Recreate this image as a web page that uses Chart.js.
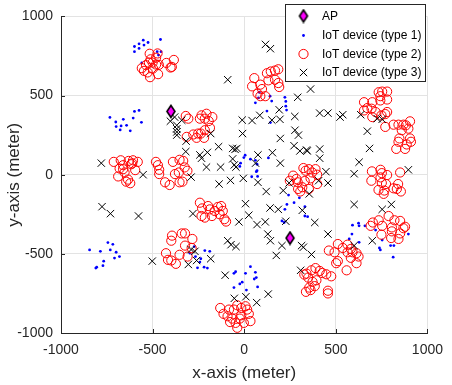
<!DOCTYPE html>
<html>
<head>
<meta charset="utf-8">
<script src="https://cdn.jsdelivr.net/npm/chart.js@4.4.1/dist/chart.umd.min.js"></script>
<style>
html,body{margin:0;padding:0;background:#fff;}
#wrap{width:452px;height:385px;}
</style>
</head>
<body>
<div id="wrap"><canvas id="c" width="452" height="385"></canvas></div>
<script>
// ---- data (meters) ----
const xTicks = [-1000, -500, 0, 500, 1000];
const yTicks = [-1000, -500, 0, 500, 1000];
const seriesNames = ['AP', 'IoT device (type 1)', 'IoT device (type 2)', 'IoT device (type 3)'];

const apX = [-400, 250];
const apY = [400, -400];

const t1X = [-599,-574,-551,-525,-457,-599,-574,-547,-475,-468,-454,-559,
  -733,-701,-672,-660,-642,-622,-677,-699,-599,-574,-606,-561,
  -844,-785,-744,-717,-731,-699,-681,-708,-767,-771,-805,-810,
  -273,-215,-188,-296,-266,-237,-242,-255,-219,-201,
  -47,-56,7,61,34,66,55,-11,-24,-56,12,73,
  -2,34,5,-24,-20,61,132,70,66,73,41,70,
  242,233,301,331,346,331,206,218,272,222,
  61,78,82,141,150,222,227,227,231,124,143,
  591,624,627,588,573,627,659,717,753,738,743,799,817,813,896];
const t1Y = [810,827,850,835,854,777,798,819,777,756,777,706,
  362,333,308,350,312,277,283,304,400,406,358,331,
  -475,-484,-429,-440,-475,-490,-517,-527,-546,-575,-584,-590,
  -454,-479,-484,-496,-517,-531,-552,-588,-584,-590,
  -613,-623,-623,-617,-581,-650,-659,-679,-690,-713,-729,-709,
  108,98,123,52,73,91,106,66,19,-11,-13,25,
  -129,-188,-146,-202,-265,-261,-292,-302,-177,-219,
  454,485,521,496,465,489,463,433,408,402,329,
  -319,-306,-323,-375,-406,-427,-323,-350,-413,-463,-475,-448,-448,-521,-375];

const t2X = [-516,-473,-559,-536,-520,-500,-481,-466,-425,-384,-402,-527,-514,-470,-511,-498,-547,-481,-395,
  -319,-305,-314,-278,-251,-233,-206,-174,-242,-215,-194,-187,-215,-237,-260,-219,
  -712,-674,-661,-680,-688,-653,-631,-607,-581,-595,-617,-644,-622,-634,-611,-661,
  -482,-471,-464,-464,-432,-407,-389,-378,-353,-357,-353,-333,-325,-310,-337,
  -427,-416,-398,-373,-394,-398,-341,-323,-283,-323,-287,-353,-309,
  -242,-230,-215,-233,-197,-176,-161,-144,-126,-117,-108,-99,-188,-134,
  -131,-113,-83,-56,-91,-65,-38,-16,7,16,25,-16,-24,-2,34,-47,-77,-38,
  55,43,88,97,73,115,124,145,168,186,132,168,186,191,88,
  654,654,672,699,695,734,753,780,780,743,743,780,770,749,717,699,
  770,815,842,869,860,847,905,896,905,910,887,878,830,842,882,
  697,744,751,780,694,744,751,774,733,765,761,815,840,855,833,851,
  690,702,734,753,749,788,820,851,869,878,806,802,842,851,806,
  462,493,511,538,564,582,591,613,624,613,582,511,502,559,564,
  340,349,367,389,412,426,448,475,373,385,394,355,337,362,457,457,328,
  267,285,292,294,306,317,330,335,353,371,389,398,362,398,353,323,249];
const t2Y = [764,766,673,692,708,708,696,694,706,725,677,646,616,635,729,671,656,739,681,
  371,354,239,254,260,375,385,364,354,354,339,296,281,260,233,233,
  81,91,35,39,-11,14,87,91,81,29,66,-44,-54,-31,72,60,
  81,60,31,4,-48,-65,81,4,94,14,-48,87,46,25,-44,
  -496,-538,-542,-563,-385,-417,-371,-371,-406,-448,-463,-506,-517,
  -177,-213,-271,-261,-198,-261,-229,-204,-198,-229,-281,-296,-219,-250,
  -842,-879,-852,-852,-894,-909,-825,-842,-831,-852,-879,-888,-909,-936,-925,-936,-931,-967,
  610,558,569,541,512,496,641,652,658,666,596,600,579,554,496,
  458,406,421,458,417,521,525,525,475,469,496,396,383,375,396,364,
  302,316,316,316,281,229,337,291,229,208,191,163,163,208,312,
  21,31,10,-2,-38,-17,-52,-59,-96,-100,-121,-86,-59,-106,-90,14,
  -323,-302,-288,-323,-379,-261,-288,-292,-338,-329,-358,-400,-406,-371,-333,
  -479,-490,-438,-463,-442,-469,-490,-496,-517,-559,-525,-546,-559,-604,-490,
  -625,-650,-604,-590,-608,-621,-629,-642,-677,-704,-667,-713,-740,-729,-733,-750,-631,
  -6,-27,-48,-90,-106,-79,-40,25,35,14,35,0,-23,-59,-90,42,-38];

const t3X = [-90,116,143,362,292,-403,-380,-368,-368,-368,-368,-341,-317,-319,-242,-233,-201,-183,-140,-206,
  -129,-63,-50,-40,-63,-54,-45,-11,-9,-780,-552,-290,-75,43,85,151,191,195,276,412,
  457,523,538,636,726,753,672,684,627,600,896,277,296,197,272,304,340,412,412,197,
  75,62,154,75,120,-5,-137,213,7,25,-29,70,115,141,186,227,317,-280,129,143,
  206,175,313,323,367,308,245,355,385,457,600,600,699,753,803,9,68,131,-776,-730,
  -577,-502,-90,-72,-45,-290,-269,-260,-305,-183,-104,-54,344,446,406,457];
const t3Y = [600,823,796,541,489,338,364,312,290,270,250,344,212,146,125,104,141,260,177,48,
  48,166,160,166,100,62,48,345,260,73,0,-15,-36,342,375,345,410,350,368,389,
  389,364,379,379,354,350,275,166,79,6,31,281,250,229,183,150,156,162,104,73,
  125,73,139,-48,-106,-23,-59,-100,-183,-256,-298,-315,-298,-210,-219,-294,-225,-246,-375,-417,
  -448,-510,-448,-458,-504,-604,-52,-121,-302,-375,-188,-448,-417,-219,-188,-771,-808,-754,-202,-246,
  -261,-546,-417,-442,-454,-473,-484,-542,-567,-531,-635,-781,150,19,-38,-52];

const pts = (xs, ys) => xs.map((x, i) => ({x: x, y: ys[i]}));

// AP marker: magenta diamond with black edge
function diamond() {
  const cv = document.createElement('canvas');
  cv.width = 12; cv.height = 15;
  const g = cv.getContext('2d');
  g.beginPath();
  g.moveTo(6, 1.5); g.lineTo(10, 7.5); g.lineTo(6, 13.5); g.lineTo(2, 7.5); g.closePath();
  g.fillStyle = '#ff00ff'; g.fill();
  g.lineWidth = 1.6; g.strokeStyle = '#000'; g.stroke();
  return cv;
}
const apStyle = diamond();

const FONT = '"Liberation Sans", Arial, Helvetica, sans-serif';
const TXT = '#262626';

const datasets = [
  {label: seriesNames[0], data: pts(apX, apY), pointStyle: apStyle, pointRadius: 6, showLine: false},
  {label: seriesNames[3], data: pts(t3X, t3Y), pointStyle: 'crossRot', pointRadius: 5.2, pointBorderWidth: 1, borderColor: '#000', backgroundColor: '#000', showLine: false},
  {label: seriesNames[2], data: pts(t2X, t2Y), pointStyle: 'circle', pointRadius: 4.6, pointBorderWidth: 1, borderColor: '#ff0000', backgroundColor: 'rgba(0,0,0,0)', showLine: false},
  {label: seriesNames[1], data: pts(t1X, t1Y), pointStyle: 'circle', pointRadius: 1.4, pointBorderWidth: 0, borderColor: '#0000ff', backgroundColor: '#0000ff', showLine: false}
];

const inTicks = {
  id: 'inTicks',
  afterDatasetsDraw(chart) {
    const ctx = chart.ctx, a = chart.chartArea;
    const sx = chart.scales.x, sy = chart.scales.y;
    ctx.save();
    ctx.strokeStyle = TXT; ctx.lineWidth = 1;
    ctx.beginPath();
    xTicks.forEach(v => { const p = Math.round(sx.getPixelForValue(v)) + 0.5; ctx.moveTo(p, a.bottom); ctx.lineTo(p, a.bottom - 4); });
    yTicks.forEach(v => { const p = Math.round(sy.getPixelForValue(v)) + 0.5; ctx.moveTo(a.left, p); ctx.lineTo(a.left + 4, p); });
    ctx.stroke();
    ctx.restore();
  }
};

const boxLegend = {
  id: 'boxLegend',
  afterDraw(chart) {
    const ctx = chart.ctx;
    const L = 285.5, T = 4.5, W = 140, H = 77;
    ctx.save();
    ctx.fillStyle = '#fff'; ctx.fillRect(L, T, W, H);
    ctx.strokeStyle = TXT; ctx.lineWidth = 1; ctx.strokeRect(L, T, W, H);
    const rows = [16, 35.5, 54, 72.5];
    const order = [0, 3, 2, 1];
    ctx.font = '12px ' + FONT; ctx.textBaseline = 'middle'; ctx.textAlign = 'left';
    order.forEach((di, k) => {
      const ds = chart.data.datasets[di];
      const y = rows[k];
      ctx.fillStyle = ds.backgroundColor || '#000';
      ctx.strokeStyle = ds.borderColor || '#000';
      ctx.lineWidth = ds.pointBorderWidth || 1;
      Chart.helpers.drawPoint(ctx, {pointStyle: ds.pointStyle, radius: ds.pointRadius, borderWidth: ds.pointBorderWidth || 0, rotation: 0}, 303.5, y);
      ctx.fillStyle = '#000';
      ctx.fillText(ds.label, 322, y + 0.5);
    });
    ctx.restore();
  }
};

const fmt = v => String(v);

new Chart(document.getElementById('c'), {
  type: 'scatter',
  data: {datasets: datasets},
  options: {
    responsive: false,
    devicePixelRatio: 1,
    animation: false,
    layout: {padding: {left: 0, right: 19, top: 13, bottom: 0}},
    plugins: {legend: {display: false}, tooltip: {enabled: false}},
    scales: {
      x: {
        type: 'linear', min: -1000, max: 1000,
        afterBuildTicks: s => { s.ticks = xTicks.map(v => ({value: v})); },
        ticks: {font: {family: FONT, size: 14}, color: TXT, padding: 9, maxRotation: 0, autoSkip: false, callback: fmt},
        grid: {color: '#e3e3e3', drawTicks: false, lineWidth: 1},
        border: {color: TXT, width: 1},
        title: {display: true, text: 'x-axis (meter)', font: {family: FONT, size: 17}, color: TXT, padding: {top: 0, bottom: 1}},
        afterFit: s => { s.height = 52; }
      },
      y: {
        type: 'linear', min: -1000, max: 1000,
        afterBuildTicks: s => { s.ticks = yTicks.map(v => ({value: v})); },
        ticks: {font: {family: FONT, size: 14}, color: TXT, padding: 8, autoSkip: false, callback: fmt},
        grid: {color: '#e3e3e3', drawTicks: false, lineWidth: 1},
        border: {color: TXT, width: 1},
        title: {display: true, text: 'y-axis (meter)', font: {family: FONT, size: 17}, color: TXT, padding: {top: 4, bottom: 0}},
        afterFit: s => { s.width = 61; }
      }
    }
  },
  plugins: [inTicks, boxLegend]
});
</script>
</body>
</html>
